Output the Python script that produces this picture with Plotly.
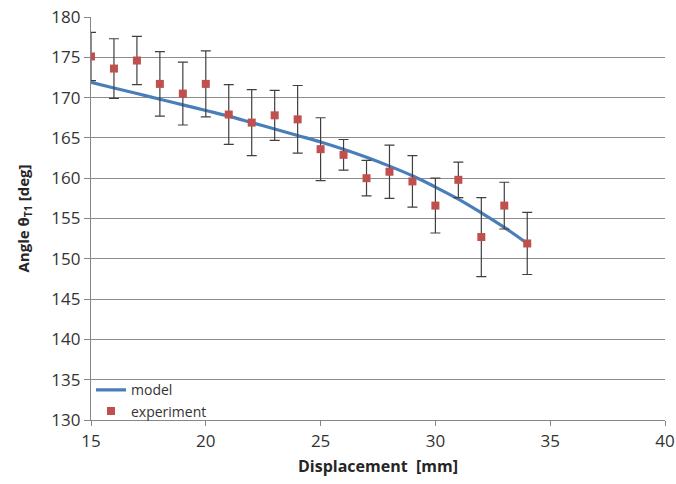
import plotly.graph_objects as go

displacement = [15, 16, 17, 18, 19, 20, 21, 22, 23, 24, 25, 26, 27, 28, 29, 30, 31, 32, 33, 34]
experiment = [175.1, 173.6, 174.6, 171.7, 170.5, 171.7, 167.9, 166.9, 167.8, 167.3,
              163.6, 162.9, 160.0, 160.8, 159.6, 156.6, 159.8, 152.7, 156.6, 151.9]
exp_error = [3.0, 3.7, 3.0, 4.0, 3.9, 4.1, 3.7, 4.1, 3.1, 4.2,
             3.9, 1.9, 2.2, 3.3, 3.2, 3.4, 2.2, 4.9, 2.9, 3.85]
model = [171.9, 171.2, 170.5, 169.8, 169.1, 168.4, 167.7, 166.9, 166.1, 165.3,
         164.5, 163.6, 162.6, 161.5, 160.3, 158.9, 157.4, 155.7, 153.9, 151.9]

x_ticks = [15, 20, 25, 30, 35, 40]
y_ticks = [130, 135, 140, 145, 150, 155, 160, 165, 170, 175, 180]

fig = go.Figure()
fig.add_trace(go.Scatter(
    x=displacement, y=model, mode="lines", name="model",
    line=dict(color="#4A7EBB", width=3.2, shape="spline"),
))
fig.add_trace(go.Scatter(
    x=displacement, y=experiment, mode="markers", name="experiment",
    marker=dict(symbol="square", size=8, color="#C0504D"),
    error_y=dict(type="data", array=exp_error, visible=True,
                 color="#404040", thickness=1.2, width=5),
))

font_family = "Open Sans, DejaVu Sans, sans-serif"
fig.update_layout(
    width=676, height=484,
    margin=dict(l=91, r=11, t=17, b=64, autoexpand=False),
    paper_bgcolor="white", plot_bgcolor="white",
    font=dict(family=font_family, size=15, color="#262626"),
    showlegend=True,
    legend=dict(x=0.0, y=-0.018, xanchor="left", yanchor="bottom",
                bgcolor="rgba(255,255,255,0)", font=dict(size=14, color="#333333"),
                tracegroupgap=0, itemwidth=30),
    xaxis=dict(
        range=[15, 40], tickvals=x_ticks, ticktext=[str(v) for v in x_ticks],
        showgrid=False, zeroline=False, automargin=False,
        showline=True, linecolor="#868686", linewidth=1.2,
        ticks="outside", ticklen=5, tickcolor="#868686",
        tickfont=dict(size=17, color="#333333"),
        title=dict(text="<b>Displacement  [mm]</b>", font=dict(size=16, color="#262626"), standoff=10),
    ),
    yaxis=dict(
        range=[130, 180], tickvals=y_ticks, ticktext=[str(v) for v in y_ticks],
        showgrid=True, gridcolor="#8C8C8C", gridwidth=1.3, zeroline=False, automargin=False,
        showline=True, linecolor="#868686", linewidth=1.2,
        ticks="outside", ticklen=6, tickcolor="#868686",
        tickfont=dict(size=17, color="#333333"),
        title=dict(text="<b>Angle θ<sub>T1</sub> [deg]</b>", font=dict(size=15, color="#262626"), standoff=18),
    ),
)

fig.write_html("out.html", config={"displayModeBar": False},
               post_script="document.body.style.margin='0';document.body.style.padding='0';document.body.style.overflow='hidden';")
